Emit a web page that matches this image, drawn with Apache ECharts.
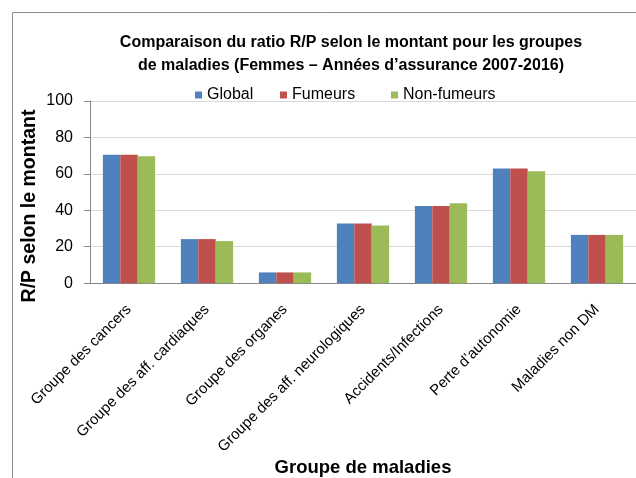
<!DOCTYPE html>
<html><head><meta charset="utf-8">
<script src="https://cdn.jsdelivr.net/npm/echarts@6/dist/echarts.min.js"></script>
<style>html,body{margin:0;padding:0;background:#fff}#c{width:636px;height:478px}</style>
</head><body><div id="c"></div>
<script>
const categories = ["Groupe des cancers","Groupe des aff. cardiaques","Groupe des organes","Groupe des aff. neurologiques","Accidents/Infections","Perte d\u2019autonomie","Maladies non DM"];
const globalVals = [70.5, 24.2, 5.9, 32.8, 42.3, 62.9, 26.5];
const fumeursVals = [70.5, 24.2, 5.9, 32.8, 42.3, 62.9, 26.5];
const nonFumeursVals = [69.7, 23.1, 5.9, 31.7, 43.9, 61.5, 26.5];
const yTicks = [0, 20, 40, 60, 80, 100];
const seriesNames = ['Global', 'Fumeurs', 'Non-fumeurs'];
const FONT = "'Liberation Sans', Arial, sans-serif";

const chart = echarts.init(document.getElementById('c'), null, {renderer:'canvas'});
const legendLefts = [195, 280, 391];
chart.setOption({
  animation:false,
  textStyle:{fontFamily:FONT},
  graphic:[
    {type:'rect',shape:{x:12.5,y:12.5,width:700,height:600},style:{fill:'none',stroke:'#8c8c8c',lineWidth:1},z:-1},
    {type:'text',x:30,y:206,rotation:Math.PI/2,
      style:{text:'R/P selon le montant',fontFamily:FONT,fontSize:19.5,fontWeight:'bold',fill:'#000',
        textAlign:'center',textVerticalAlign:'middle'}}
  ],
  title:{text:'Comparaison du ratio R/P selon le montant pour les groupes\nde maladies (Femmes \u2013 Ann\u00e9es d\u2019assurance 2007-2016)',
    left:346, textAlign:'center', top:26,
    textStyle:{fontFamily:FONT,fontSize:16,fontWeight:'bold',color:'#000',lineHeight:23}},
  legend: seriesNames.map((n,i)=>({top:87,left:legendLefts[i],padding:0,itemWidth:7,itemHeight:7,icon:'rect',
    textStyle:{fontFamily:FONT,fontSize:16,color:'#000'},data:[n]})),
  grid:{left:90,top:101,right:0,bottom:191,containLabel:false},
  xAxis:{type:'category',data:categories,
    axisLine:{lineStyle:{color:'#868686'}},axisTick:{show:false},
    axisLabel:{rotate:45,fontSize:15,color:'#000',margin:24,interval:0,fontFamily:FONT},
    name:'Groupe de maladies',nameLocation:'middle',nameGap:174,
    nameTextStyle:{fontFamily:FONT,fontSize:18.5,fontWeight:'bold',color:'#000'}},
  yAxis:{type:'value',min:0,max:100,interval:20,
    axisLine:{show:true,lineStyle:{color:'#868686'}},
    axisTick:{show:true,length:6,lineStyle:{color:'#868686'}},
    splitLine:{lineStyle:{color:'#d9d9d9',width:1}},
    axisLabel:{fontSize:16,color:'#000',margin:17,fontFamily:FONT,
      formatter:v=>yTicks.includes(v)?String(v):''}},
  series:[
    {name:seriesNames[0],type:'bar',data:globalVals,itemStyle:{color:'#4f81bd'},barGap:'0%',barCategoryGap:'33%'},
    {name:seriesNames[1],type:'bar',data:fumeursVals,itemStyle:{color:'#c0504d'}},
    {name:seriesNames[2],type:'bar',data:nonFumeursVals,itemStyle:{color:'#9bbb59'}}
  ]
});
</script></body></html>
